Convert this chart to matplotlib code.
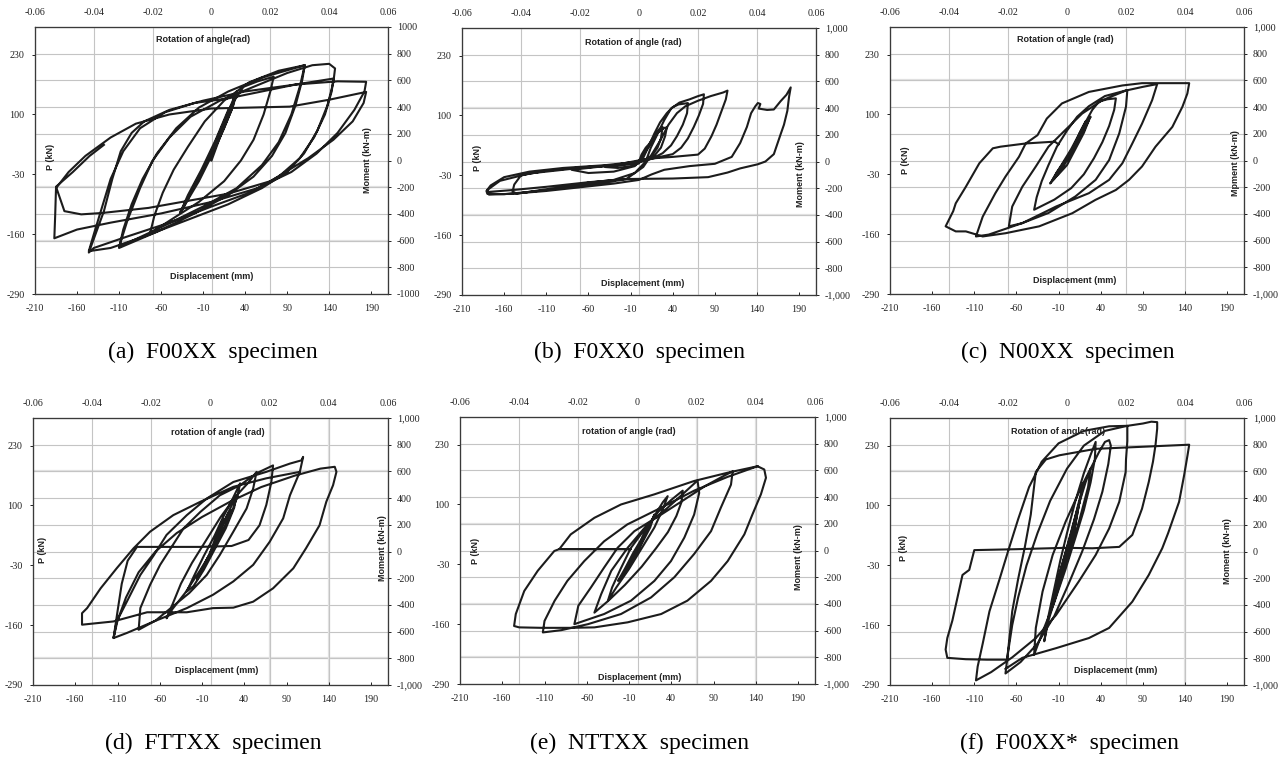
import matplotlib.pyplot as plt

plt.rcParams['font.family'] = 'Liberation Serif'
plt.rcParams['axes.unicode_minus'] = False

# displacement (mm), load P (kN)
f00xx = [(0, 0), (10, 50), (20, 100), (30, 150), (26, 120), (15, 70), (0, 10), (-15, -45), (-28, -85), (-37, -114),
         (-30, -90), (-18, -45), (0, 20), (15, 85), (30, 150), (24, 110), (10, 50), (-10, -20), (-25, -70), (-37, -112),
         (-28, -75), (-12, -20), (5, 45), (20, 110), (38, 160), (55, 172), (74, 182),
         (70, 150), (62, 100), (50, 45), (35, 0), (15, -45), (-15, -90), (-45, -125), (-73, -158),
         (-68, -120), (-58, -70), (-45, -20), (-28, 30), (-8, 85), (15, 130), (45, 170), (80, 195), (111, 207),
         (108, 175), (100, 120), (88, 60), (72, 10), (50, -35), (20, -75), (-20, -115), (-65, -155), (-110, -190),
         (-105, -150), (-95, -95), (-82, -40), (-65, 15), (-42, 70), (-15, 115), (20, 150), (60, 180), (111, 207),
         (105, 160), (95, 100), (80, 40), (60, -10), (30, -60), (-10, -100), (-60, -145), (-110, -188),
         (-100, -130), (-85, -60), (-70, 0), (-50, 50), (-25, 95), (10, 130), (50, 160), (90, 190), (120, 207),
         (140, 210), (147, 200),
         (145, 170), (138, 120), (126, 65), (110, 15), (90, -25), (60, -60), (20, -95), (-30, -130), (-80, -165),
         (-120, -190), (-146, -197),
         (-140, -160), (-130, -100), (-120, -40), (-105, 20), (-85, 70), (-55, 105), (-20, 125), (20, 135), (60, 150),
         (100, 165), (145, 178),
         (143, 150), (135, 100), (122, 50), (105, 5), (80, -35), (45, -70), (0, -100), (-50, -135), (-100, -165),
         (-140, -190), (-146, -200),
         (-140, -170), (-128, -110), (-118, -40), (-108, 20), (-95, 60), (-80, 85), (-50, 110), (-10, 130), (40, 150),
         (100, 165), (150, 172), (184, 171),
         (182, 150), (170, 110), (150, 60), (125, 15), (95, -25), (55, -60), (0, -90), (-60, -115), (-120, -135),
         (-160, -150), (-187, -169),
         (-186, -120), (-185, -60), (-170, -25), (-150, 10), (-120, 50), (-90, 80), (-50, 100), (0, 113), (93, 117),
         (140, 132), (184, 149),
         (181, 125), (168, 85), (145, 45), (115, 5), (70, -45), (20, -72), (-20, -85), (-75, -103), (-130, -114),
         (-155, -117), (-175, -110), (-185, -57), (-165, -25), (-145, 10), (-128, 34)]

f0xx0 = [(0, 0), (3, 15), (8, 30), (12, 38), (18, 55), (24, 70), (28, 75), (26, 50), (22, 30), (15, 12), (5, 2),
         (-10, -5), (-25, -9), (-40, -12), (-25, -14), (-10, -10), (0, -4), (5, 15), (10, 28), (16, 45), (22, 62),
         (30, 73), (33, 74), (31, 55), (26, 30), (18, 12), (8, 3), (-20, -7), (-50, -12), (-80, -18), (-60, -25),
         (-30, -22), (-5, -10), (5, 8), (12, 35), (18, 60), (25, 85), (33, 105), (40, 118), (47, 124), (55, 126),
         (58, 127), (57, 105), (52, 80), (45, 55), (38, 35), (28, 18), (15, 6), (0, -2), (-30, -8), (-70, -13),
         (-110, -20), (-140, -30), (-148, -50), (-150, -65), (-145, -70), (-120, -63), (-90, -55), (-60, -46),
         (-30, -40), (-5, -25), (8, 0), (14, 30), (22, 60), (30, 90), (38, 115), (48, 128), (60, 135), (70, 142),
         (77, 146), (76, 125), (71, 100), (65, 75), (58, 50), (50, 30), (40, 16), (20, 8), (0, 0), (-40, -8),
         (-90, -14), (-130, -22), (-160, -34), (-176, -52), (-181, -64), (-180, -70), (-160, -71), (-130, -66),
         (-100, -60), (-70, -52), (-40, -46), (-15, -38), (5, -12), (15, 15), (25, 45), (35, 80), (45, 105),
         (55, 120), (70, 132), (85, 142), (100, 150), (105, 154), (103, 135), (98, 110), (92, 80), (86, 55),
         (78, 28), (70, 15), (40, 10), (10, 6), (-30, -8), (-80, -16), (-130, -26), (-165, -42), (-180, -62),
         (-178, -72), (-150, -70), (-110, -64), (-70, -56), (-30, -48), (0, -40), (15, -28), (30, -18), (60, -10),
         (90, -5), (110, 10), (120, 40), (128, 75), (133, 105), (138, 120), (141, 127), (144, 125), (142, 115),
         (152, 112), (160, 113), (168, 131), (175, 145), (180, 161), (178, 140), (176, 110), (172, 80), (168, 59),
         (160, 16), (150, 0), (141, -6), (120, -15), (105, -24), (82, -34), (40, -37), (-13, -38), (-60, -45),
         (-110, -55), (-150, -62), (-178, -66)]

n00xx = [(0, 0), (8, 30), (15, 60), (22, 85), (26, 88), (20, 60), (10, 25), (0, -10), (-10, -30), (-17, -42),
         (-12, -25), (0, 5), (12, 45), (22, 80), (28, 95), (20, 65), (8, 25), (-5, -15), (-15, -40), (-20, -50),
         (-10, -20), (5, 25), (18, 70), (30, 110), (38, 128), (48, 133), (58, 135), (56, 110), (50, 75), (42, 40),
         (32, 5), (20, -30), (5, -60), (-15, -85), (-39, -107),
         (-36, -80), (-30, -45), (-22, -10), (-12, 30), (0, 65), (12, 95), (26, 118), (45, 140), (71.6, 153),
         (70, 117), (62, 59), (50, 1), (34, -42), (10, -78), (-22, -114), (-53, -136), (-69, -143),
         (-65, -100), (-53, -57), (-37, -13), (-22, 30), (-6, 59), (18, 102), (42, 131), (70, 152), (90, 160),
         (107, 166),
         (101, 131), (89, 80), (77.5, 37), (65.7, -6), (50, -42), (26, -71), (-13, -100), (-53, -136), (-93, -161),
         (-108, -165),
         (-100, -122), (-85, -71), (-73, -35), (-57, 8), (-49, 37), (-35, 55), (-24, 91), (-6, 124), (26, 149),
         (65.7, 163), (89, 168), (145, 168),
         (142.8, 145.5), (137, 117), (125, 73), (105, 30), (89, -13), (73.6, -42), (58, -64), (33.7, -85.6),
         (6.3, -114.5), (-33, -143), (-73, -158), (-100, -165), (-120, -154), (-132, -154), (-144, -143),
         (-135, -110), (-132, -93), (-120, -57), (-104, -6), (-88, 26.5), (-79, 30), (-49, 37), (-14.5, 41),
         (-10, 35)]

fttxx = [(0, 0), (5, 25), (10, 50), (15, 70), (12, 45), (5, 15), (-3, -15), (-10, -40), (-5, -20), (3, 10),
         (12, 50), (20, 80), (24, 90), (18, 60), (8, 20), (-5, -25), (-14, -55), (-16, -60), (-8, -30), (5, 15),
         (15, 60), (25, 100), (30, 115), (28, 95), (18, 50), (5, 5), (-8, -40), (-20, -75), (-28, -87),
         (-20, -55), (-8, -10), (5, 35), (15, 75), (25, 110), (35, 148), (32, 120), (25, 85), (15, 45), (3, 5),
         (-12, -40), (-30, -90), (-45, -125), (-52, -145),
         (-45, -115), (-35, -70), (-22, -25), (-5, 25), (12, 75), (30, 120), (45, 150), (54.5, 173), (50.5, 137),
         (42.7, 93.5), (27, 43), (11, -7.6), (-4.5, -51), (-25, -90), (-45, -120), (-65, -150), (-85, -170),
         (-83, -123), (-71.5, -72.6), (-59.6, -29), (-32, 50), (-12, 86), (11, 122), (35, 144), (54.5, 170),
         (74, 187), (72, 151), (66, 101), (58, 57), (45, 25), (25, 12), (-12, 10), (-87, 10), (-98, -20),
         (-105, -70), (-110, -130), (-114.7, -188),
         (-111, -152), (-99, -109), (-83, -51), (-67, -8), (-52, 36), (-28, 79), (-4.5, 115), (27, 151), (66, 173),
         (94, 191), (107.6, 198), (109.6, 205.5), (105.7, 173), (94, 122), (86, 72), (70, 21), (50.5, -29),
         (27, -65), (3, -94), (-28, -123), (-67, -152), (-99, -177), (-114.7, -188),
         (-110, -150), (-100, -100), (-85, -45), (-65, 0), (-40, 40), (-10, 75), (25, 110), (60, 140), (100, 165),
         (130, 180), (147, 184), (149, 173), (145, 144), (137, 108), (129, 57), (113, 7), (98, -36.5), (74, -80),
         (50.5, -109), (27, -122), (3, -123), (-28, -132), (-75, -132), (-115, -152), (-152, -159),
         (-152, -134), (-146, -123), (-130, -80), (-111, -36.5), (-91, 7), (-71.5, 43), (-44, 79), (-12, 108),
         (27, 140.5), (66, 159), (105.7, 173)]

nttxx = [(0, 0), (6, 30), (12, 55), (8, 30), (0, 0), (-8, -30), (-15, -50), (-8, -25), (2, 10), (12, 45), (20, 78),
         (15, 50), (5, 15), (-8, -30), (-23, -66), (-15, -40), (-5, -5), (8, 35), (20, 75), (30, 105), (35.7, 118),
         (30, 90), (20, 50), (5, 5), (-10, -40), (-25, -80), (-35, -109),
         (-30, -80), (-20, -40), (-8, 5), (10, 50), (25, 85), (40, 110), (53.5, 130), (52, 105), (46, 75), (36, 40),
         (22, 5), (5, -35), (-15, -75), (-35, -110), (-51, -135),
         (-43, -95), (-31, -44), (-11.6, 6), (12, 57), (35.7, 93), (55, 125), (71, 152), (73, 125), (67, 78),
         (55.4, 28), (39.6, -23), (20, -66), (-7.7, -109), (-39.5, -138), (-74.7, -160),
         (-70, -120), (-55, -80), (-39.5, -37), (-23.5, 6), (-3.7, 42), (28, 78), (55, 110), (80, 140), (100, 160),
         (112.6, 172),
         (110.6, 143), (98.6, 93), (87, 42), (67, -7.6), (43.6, -58), (16, -102), (-19.5, -138), (-58.6, -160),
         (-90, -173), (-112, -178),
         (-110, -153), (-98, -109), (-83, -66), (-63, -23), (-39.5, 20), (-12, 56.7), (28, 93), (67, 130),
         (106.7, 160), (142, 183), (150, 176), (152, 158),
         (146, 122), (136, 78.4), (126.4, 35), (106.7, -23), (87, -66), (59, -109), (28, -138), (-11.6, -156),
         (-51, -167), (-79, -168), (-113, -168), (-140, -167), (-146, -164),
         (-144, -138), (-134, -88), (-118, -44), (-98.4, -1), (-92.5, 3), (-7.7, 3), (-92.5, 3), (-79, 35),
         (-51, 71), (-19.5, 100), (20, 122), (67, 151), (106.7, 169), (142, 183)]

f00xx_star = [(0, 0), (5, 30), (10, 60), (6, 30), (0, -5), (-5, -40), (0, -10), (8, 40), (15, 110), (10, 60), (0, 0),
              (-8, -50), (-13, -80), (-6, -30), (5, 40), (13, 100), (20, 150), (14, 100), (3, 20), (-8, -60),
              (-20, -130), (-12, -70), (0, 10), (12, 90), (22, 150), (28, 180), (25, 140), (15, 70), (2, -10),
              (-12, -90), (-22, -150), (-27, -195),
              (-22, -140), (-15, -80), (-8, -20), (0, 40), (10, 110), (20, 170), (28, 210), (34, 238), (33, 200),
              (28, 150), (20, 90), (10, 30), (-2, -40), (-15, -110), (-28, -170), (-39, -224),
              (-37, -166), (-29, -87), (-17, -7.6), (-1.6, 65), (18, 144), (38, 216), (45, 238), (50, 242),
              (52, 230), (49, 190), (42, 130), (32, 70), (18, 0), (2, -70), (-15, -140), (-35, -200), (-55, -240),
              (-73, -265),
              (-70, -220), (-65, -160), (-58, -100), (-48, -30), (-35, 40), (-20, 110), (0, 180), (20, 230),
              (45, 262), (71.6, 273), (71.6, 240), (70, 200), (69.6, 173), (62, 108), (50, 50), (34, -7.6),
              (14, -65), (-13, -138), (-37, -188), (-65, -230), (-90, -262), (-108, -280),
              (-106, -250), (-100, -200), (-92, -130), (-80, -60), (-70, 0), (-58, 70), (-45, 140), (-30, 195),
              (-10, 235), (20, 262), (50, 272), (71.6, 273), (90, 278), (100, 282), (107, 281), (107, 267),
              (105, 231), (102, 195), (97, 151), (89, 93), (77.5, 36), (62, 10), (30, 7), (-1.6, 8), (-60, 5),
              (-110, 3),
              (-116, -40), (-124, -51), (-130, -100), (-136, -150), (-142, -188), (-144, -213), (-142, -231),
              (-120, -234), (-95, -235), (-71, -235),
              (-69, -200), (-65, -130), (-58, -60), (-50, 10), (-43, 80), (-37, 173), (-25, 200), (-9, 209),
              (34, 223), (72, 226), (107, 229), (145, 232), (143, 209), (139, 166), (133, 108), (120, 40), (113, 7),
              (97, -51), (77.5, -109), (50, -166), (26, -188), (-13, -210), (-53, -231), (-73, -255)]

captions = ["(a)  F00XX  specimen", "(b)  F0XX0  specimen", "(c)  N00XX  specimen",
            "(d)  FTTXX  specimen", "(e)  NTTXX  specimen", "(f)  F00XX*  specimen"]
top_titles = ["Rotation of angle(rad)", "Rotation of angle (rad)", "Rotation of angle (rad)",
              "rotation of angle (rad)", "rotation of angle (rad)", "Rotation of angle(rad)"]
left_titles = ["P (kN)", "P (kN)", "P (KN)", "P (kN)", "P (kN)", "P (kN)"]
right_titles = ["Moment (kN-m)", "Moment (kN-m)", "Mpment (kN-m)", "Moment (kN-m)", "Moment (kN-m)", "Moment (kN-m)"]

disp_ticks = list(range(-210, 191, 50))
load_ticks = [-290, -160, -30, 100, 230]
moment_ticks = list(range(-1000, 1001, 200))
rot_ticks = [-0.06, -0.04, -0.02, 0, 0.02, 0.04, 0.06]
rot_labels = ["-0.06", "-0.04", "-0.02", "0", "0.02", "0.04", "0.06"]

W, H = 1286, 758
# frame boxes in pixels: left, top, right, bottom
frames = [(35, 27, 388, 294), (462, 28, 816, 295), (890, 27, 1244, 294),
          (33, 418, 388, 685), (460, 417, 815, 684), (890, 418, 1244, 685)]
caption_xy = [(213, 358), (640, 358), (1068, 358), (213, 749), (639, 749), (1069, 749)]
# label spots in data units: top, bottom, left, right
label_xy = [((-10, 262), (0, -252), (-191, 8), (186, 0)),
            ((-7, 258), (4, -266), (-192, 8), (192, -28)),
            ((-2, 263), (9, -261), (-192, 1), (200, -6)),
            ((9, 258), (7, -258), (-199, 3), (203, 7)),
            ((-10, 258), (3, -276), (-192, -1), (191, -15)),
            ((-11, 261), (58, -258), (-194, 7), (190, 0))]
# gridlines that look heavier in the scan
heavy_moment = [[-200, -600], [400, -400], [600], [600, -800], [200, -400, -800], [600]]
heavy_rot = [[], [], [], [0.02, 0.04], [0.02, 0.04], [0.04]]

data = [f00xx, f0xx0, n00xx, fttxx, nttxx, f00xx_star]

fig = plt.figure(figsize=(W / 100, H / 100), dpi=100)

lab_font = dict(family='Liberation Sans', weight='bold', fontsize=6.5, color='#222222')

for i, pts in enumerate(data):
    l, t, r, b = frames[i]
    ax = fig.add_axes([l / W, 1 - b / H, (r - l) / W, (b - t) / H])
    axr = ax.twinx()
    axt = ax.twiny()
    ax.set_zorder(3)
    ax.patch.set_visible(False)

    x = [p[0] for p in pts]
    y = [p[1] for p in pts]
    ax.plot(x, y, color='#1c1c1c', lw=1.5, solid_joinstyle='round')

    ax.set_xlim(-210, 210)
    ax.set_ylim(-290, 290)
    ax.set_xticks(disp_ticks)
    ax.set_yticks(load_ticks)
    ax.tick_params(axis='x', direction='in', length=2.5, width=0.7, labelsize=7.2, pad=7, colors='#222222')
    ax.tick_params(axis='y', direction='out', length=2.5, width=0.7, labelsize=7.2, pad=5, colors='#222222')

    axr.set_ylim(-1000, 1000)
    axr.set_yticks(moment_ticks)
    if i == 0:
        axr.set_yticklabels([str(v) for v in moment_ticks])
    else:
        axr.set_yticklabels([f"{v:,}" for v in moment_ticks])
    axr.tick_params(direction='out', length=2.5, width=0.7, labelsize=7.2, pad=4, colors='#222222')
    axr.yaxis.grid(True, color='#c4c4c4', lw=0.8)
    for m in heavy_moment[i]:
        axr.axhline(m, color='#e2e2e2', lw=1.6, zorder=0)

    axt.set_xlim(-0.06, 0.06)
    axt.set_xticks(rot_ticks)
    axt.set_xticklabels(rot_labels)
    axt.tick_params(length=0, labelsize=7.2, pad=7, colors='#222222')
    axt.xaxis.grid(True, color='#c4c4c4', lw=0.8)
    for q in heavy_rot[i]:
        axt.axvline(q, color='#e2e2e2', lw=1.6, zorder=0)

    for a in (ax, axr, axt):
        for s in a.spines.values():
            s.set_color('#3a3a3a')
            s.set_linewidth(0.8)

    (tx, ty), (bx, by), (lx, ly), (rx, ry) = label_xy[i]
    ax.text(tx, ty, top_titles[i], ha='center', va='center', **lab_font)
    ax.text(bx, by, "Displacement (mm)", ha='center', va='center', **lab_font)
    ax.text(lx, ly, left_titles[i], ha='center', va='center', rotation=90, **lab_font)
    ax.text(rx, ry, right_titles[i], ha='center', va='center', rotation=90, **lab_font)

    cx, cy = caption_xy[i]
    fig.text(cx / W, 1 - cy / H, captions[i], ha='center', va='baseline', fontsize=17,
             family='Liberation Serif')

fig.savefig('out.png', dpi=100)
